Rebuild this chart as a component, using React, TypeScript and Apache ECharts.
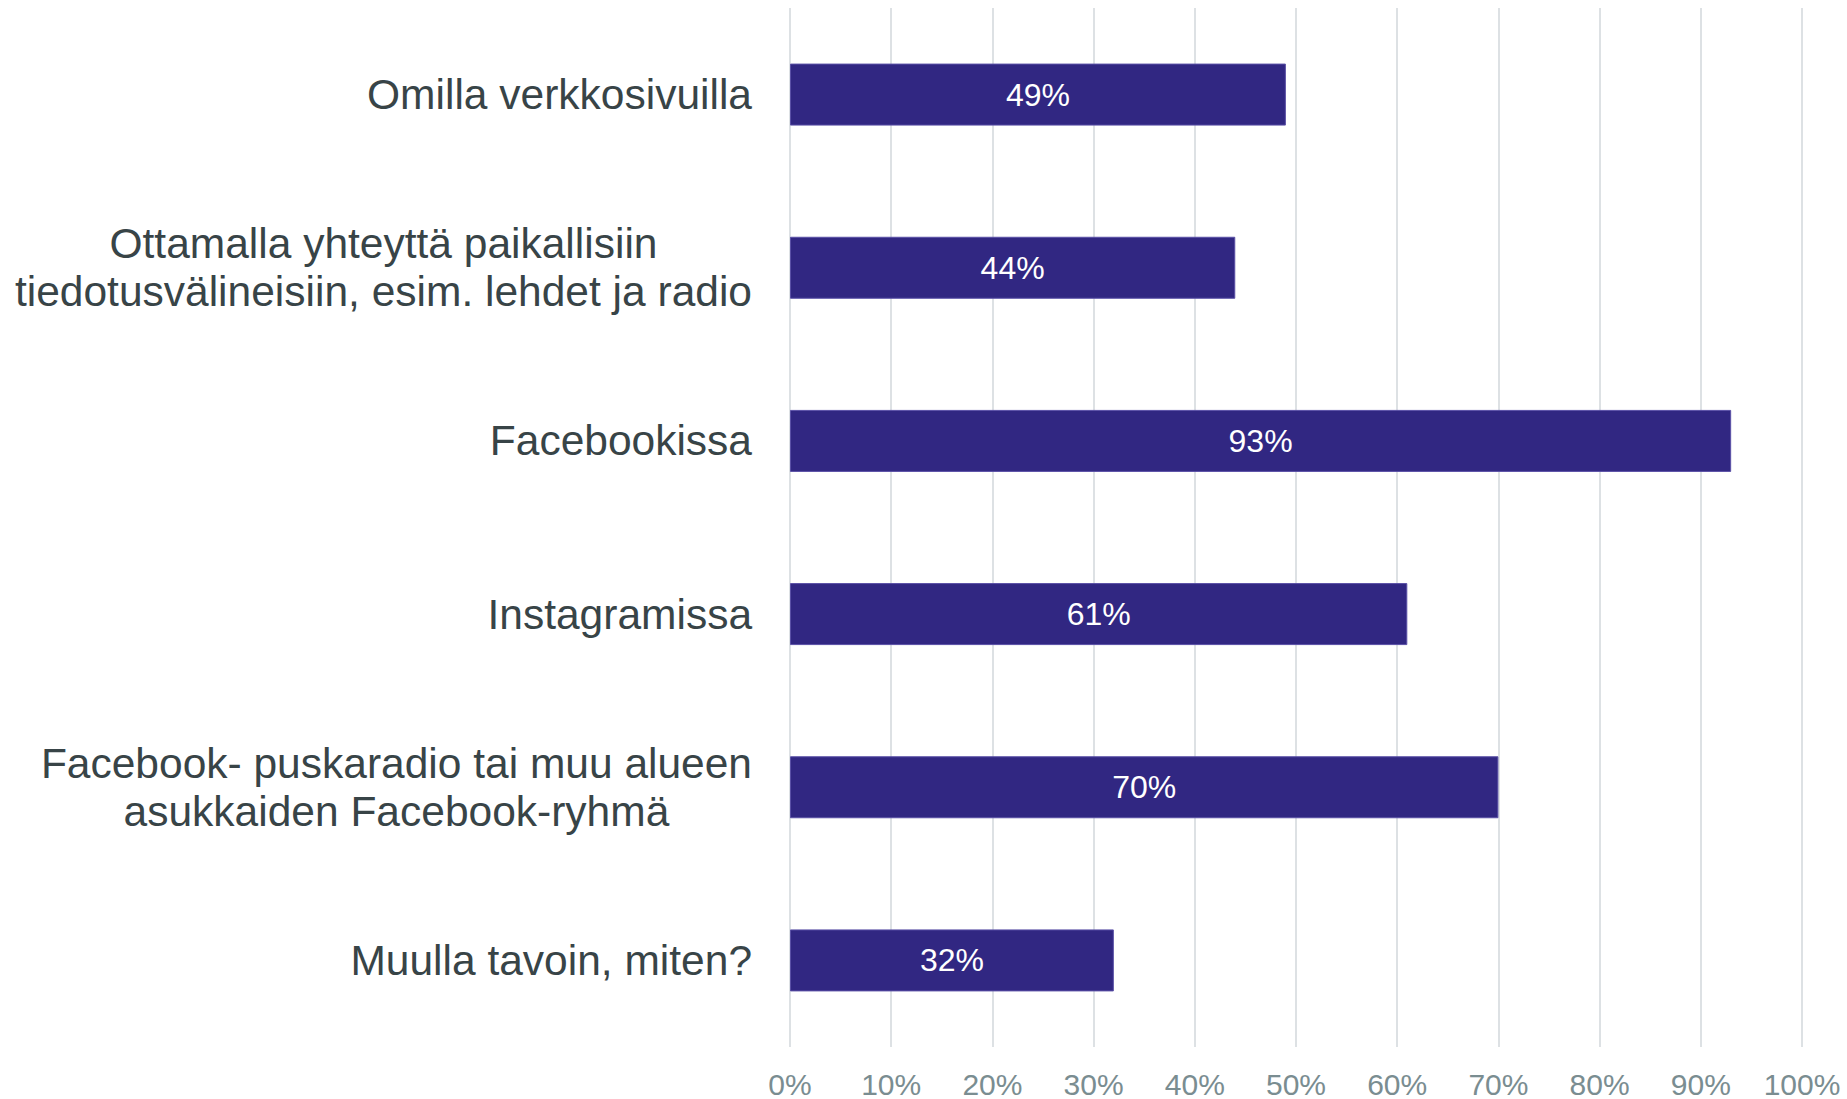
import React, { useEffect, useRef } from "react";
import * as echarts from "echarts";

const categories = [
  "Omilla verkkosivuilla",
  "Ottamalla yhteyttä paikallisiin\ntiedotusvälineisiin, esim. lehdet ja radio",
  "Facebookissa",
  "Instagramissa",
  "Facebook- puskaradio tai muu alueen\nasukkaiden Facebook-ryhmä",
  "Muulla tavoin, miten?",
];
const values = [49, 44, 93, 61, 70, 32];
const xTicks = [0, 10, 20, 30, 40, 50, 60, 70, 80, 90, 100];

const FONT = "'Liberation Sans', Arial, Helvetica, sans-serif";

export default function App() {
  const ref = useRef<HTMLDivElement>(null);
  useEffect(() => {
    document.body.style.margin = "0";
    const chart = echarts.init(ref.current!, undefined, { renderer: "svg" });
    chart.setOption({
      animation: false,
      backgroundColor: "#ffffff",
      grid: { left: 790, right: 45, top: 8, bottom: 52, containLabel: false },
      xAxis: {
        type: "value",
        min: xTicks[0],
        max: xTicks[xTicks.length - 1],
        interval: 10,
        axisLine: { show: false },
        axisTick: { show: false },
        splitLine: { show: true, lineStyle: { color: "#dde1e4", width: 2 } },
        axisLabel: {
          formatter: (v: number) => v + "%",
          color: "#7a8d91",
          fontSize: 30,
          fontFamily: FONT,
          margin: 22,
        },
      },
      yAxis: {
        type: "category",
        data: categories,
        inverse: true,
        axisLine: { show: false },
        axisTick: { show: false },
        splitLine: { show: false },
        axisLabel: {
          margin: 38,
          color: "#384447",
          fontSize: 42.5,
          fontFamily: FONT,
          lineHeight: 48,
          align: "right",
          formatter: (v: string) =>
            v
              .split("\n")
              .map((l) => "{c|" + l + "}")
              .join("\n"),
          rich: {
            c: {
              align: "center",
              color: "#384447",
              fontSize: 42.5,
              fontFamily: FONT,
              lineHeight: 48,
            },
          },
        },
      },
      series: [
        {
          type: "bar",
          data: values,
          barWidth: 62,
          itemStyle: { color: "#312782", borderColor: "#5a50a6", borderWidth: 1 },
          label: {
            show: true,
            position: "inside",
            formatter: (p: any) => p.value + "%",
            color: "#ffffff",
            fontSize: 32,
            fontFamily: FONT,
          },
        },
      ],
    });
    return () => chart.dispose();
  }, []);
  return <div ref={ref} style={{ width: 1847, height: 1099 }} />;
}
